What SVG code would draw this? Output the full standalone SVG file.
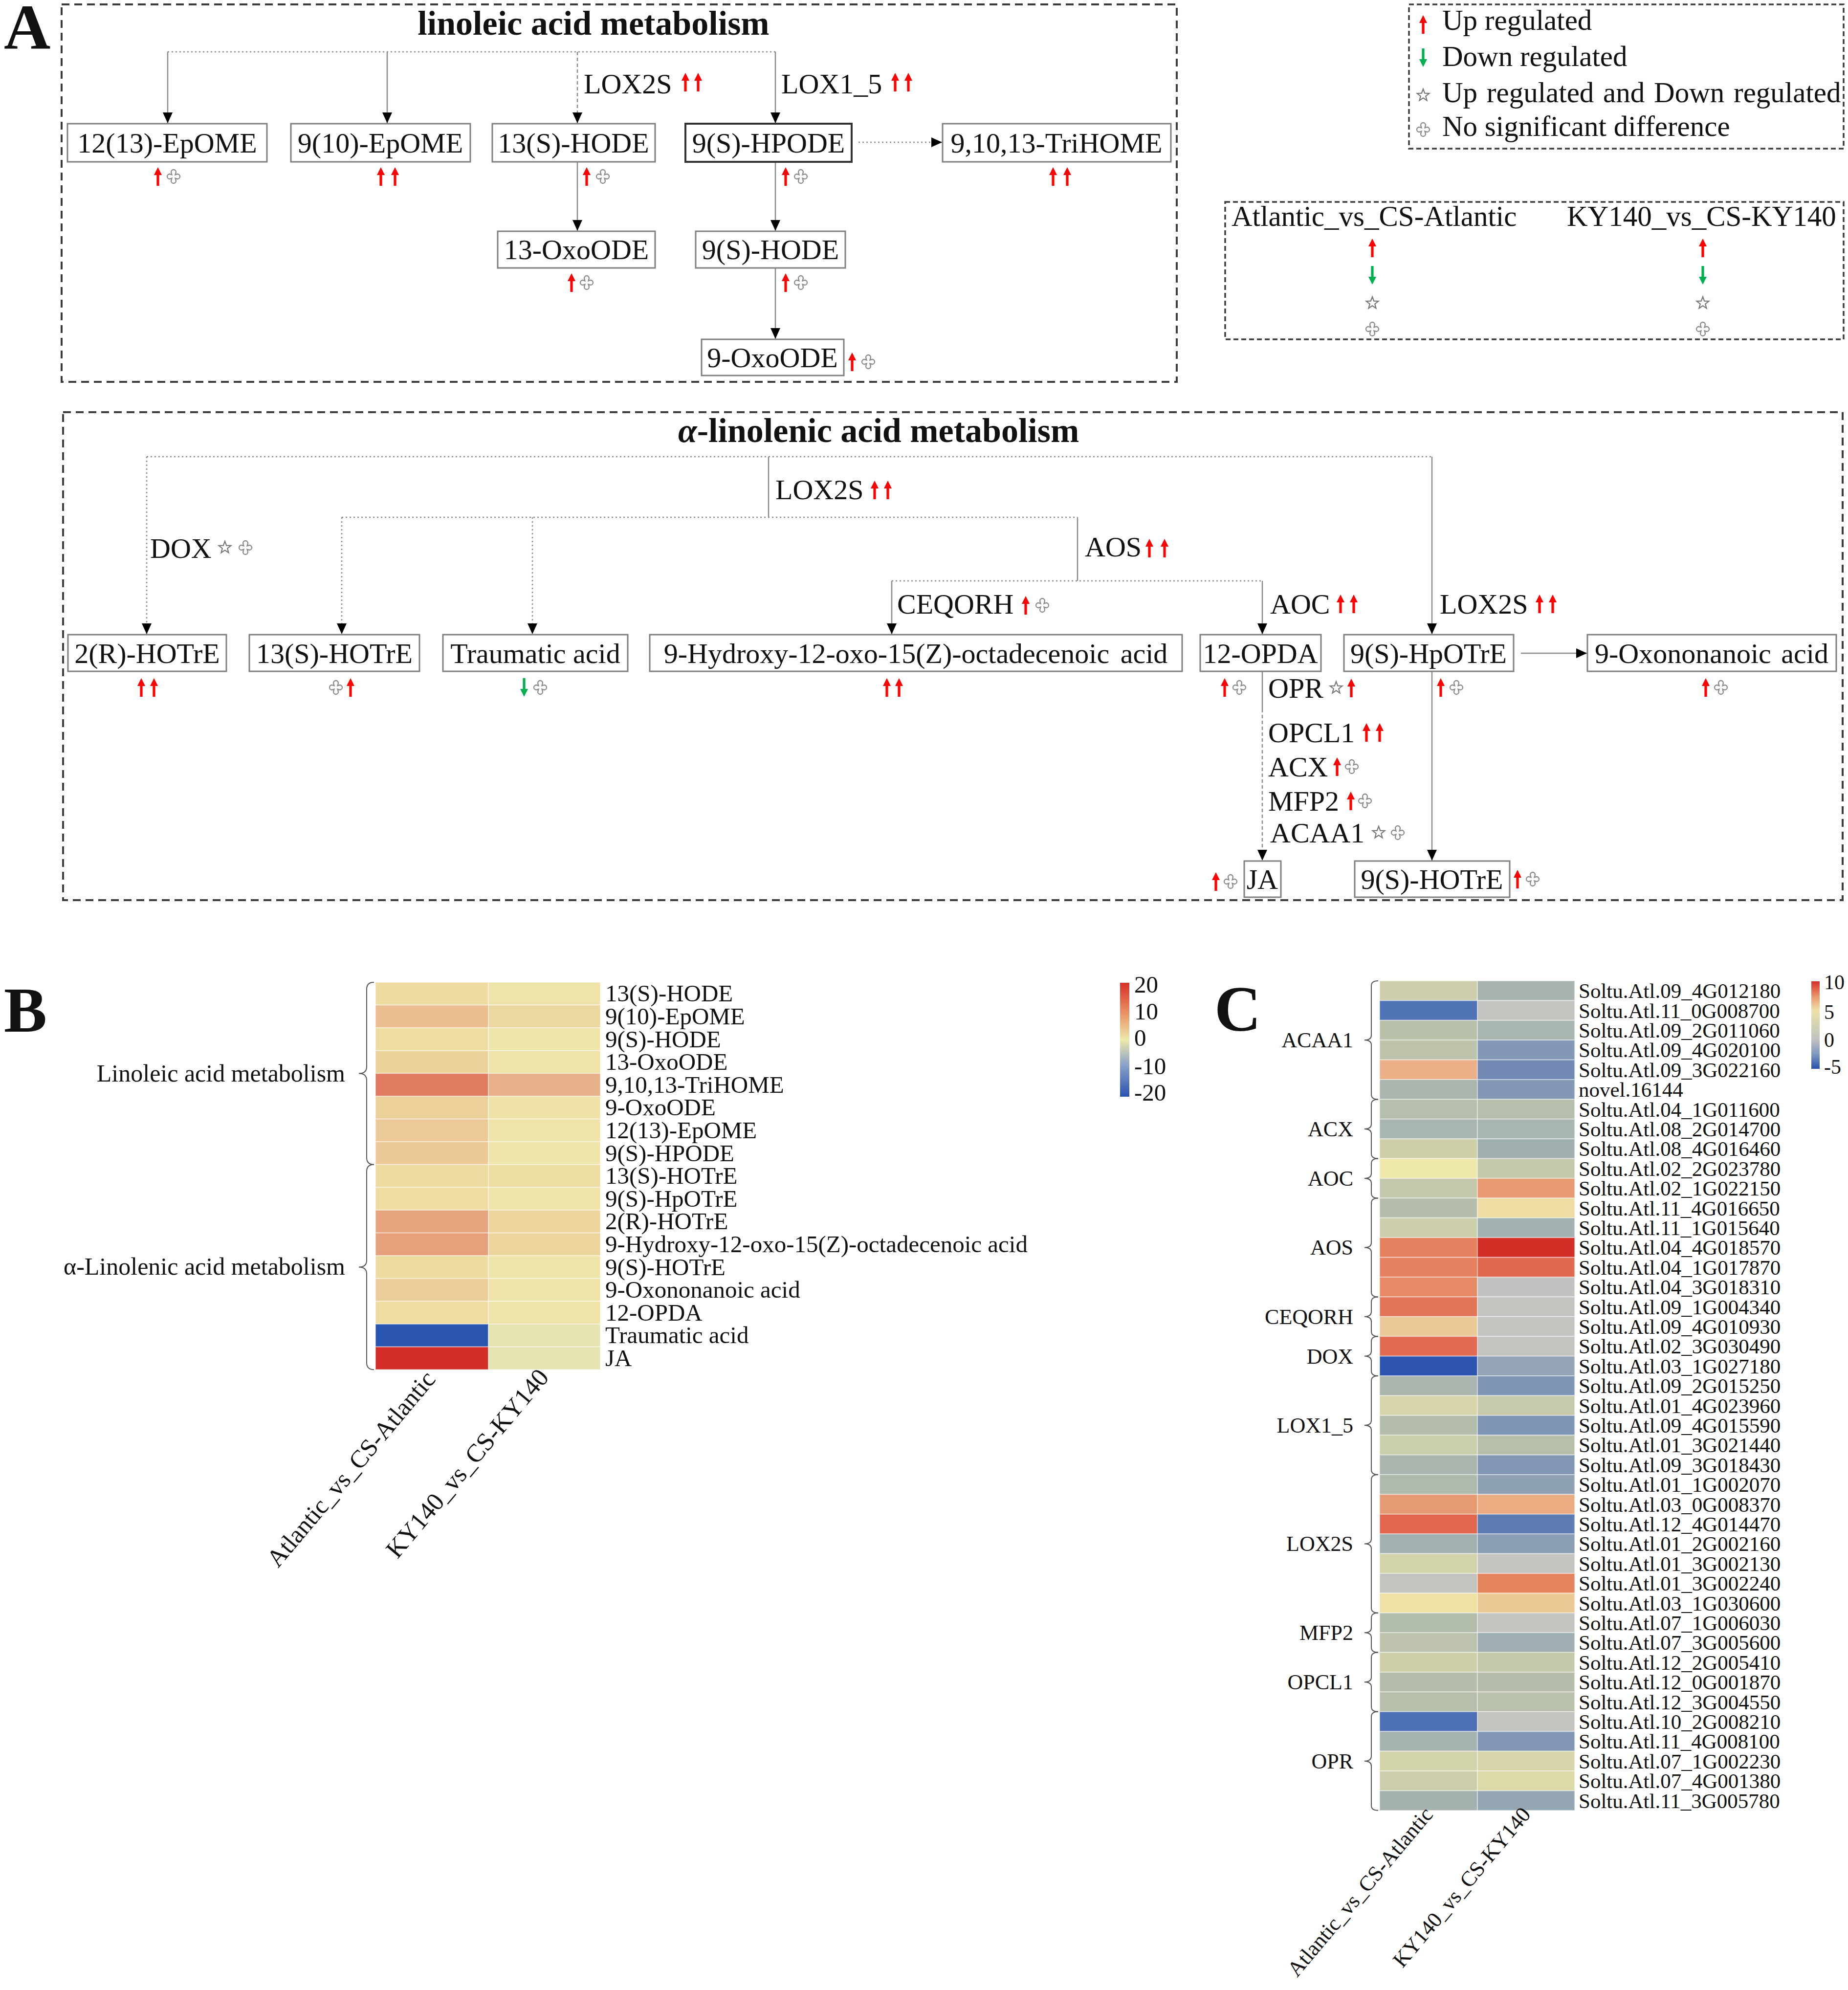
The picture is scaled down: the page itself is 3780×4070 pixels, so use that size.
<svg xmlns="http://www.w3.org/2000/svg" xmlns:xlink="http://www.w3.org/1999/xlink" width="3780" height="4070" viewBox="0 0 3780 4070">
<style>
text{font-family:"Liberation Serif","Times New Roman",serif;fill:#111}
.nt{font-size:58px;text-anchor:middle}
.lb{font-size:58px}
.pl{font-size:132px;font-weight:bold}
.ttl{font-size:70px;font-weight:bold}
.lg{font-size:59px}
.hb{font-size:49px}
.hc{font-size:43px}
.gc{font-size:44px;text-anchor:end}
.node rect{fill:#fff;stroke:#7f7f7f;stroke-width:3}
.conn path{fill:none;stroke:#8a8a8a;stroke-width:2.5}
.conn .dot{stroke-dasharray:3 5}
.conn .dash{stroke-dasharray:7 5}
.conn .arr{marker-end:url(#ah)}
.frame{fill:none;stroke:#3c3c3c;stroke-width:4;stroke-dasharray:16 10}
.lframe{fill:none;stroke:#3c3c3c;stroke-width:3.5;stroke-dasharray:10 6}
.brace{fill:none;stroke:#555;stroke-width:2}
.cell rect{stroke:#ffffff;stroke-opacity:0.45;stroke-width:2}
</style>
<defs>
<marker id="ah" viewBox="0 0 22 20" refX="22" refY="10" markerWidth="22" markerHeight="20" markerUnits="userSpaceOnUse" orient="auto"><path d="M0,0 L22,10 L0,20 z" fill="#000"/></marker>
<g id="up"><rect x="-2.6" y="-6" width="5.2" height="25" fill="#f00"/><polygon points="-8,-3 8,-3 0,-19" fill="#f00"/></g>
<g id="dn"><rect x="-2.6" y="-19" width="5.2" height="25" fill="#00b050"/><polygon points="-8,3 8,3 0,19" fill="#00b050"/></g>
<g id="st"><polygon points="0,-13 3.2,-4.4 12.4,-4 5.2,1.7 7.6,10.5 0,5.4 -7.6,10.5 -5.2,1.7 -12.4,-4 -3.2,-4.4" fill="#fff" stroke="#777" stroke-width="2.2"/></g>
<g id="ns"><path d="M-3.5,-3.5 L-5,-9 A5,5 0 0 1 5,-9 L3.5,-3.5 L8,-5 A5,5 0 0 1 8,5 L3.5,3.5 L5,9 A5,5 0 0 1 -5,9 L-3.5,3.5 L-8,5 A5,5 0 0 1 -8,-5 Z" fill="#fff" stroke="#8a8a8a" stroke-width="2.3"/></g>
<linearGradient id="gB" x1="0" y1="0" x2="0" y2="1"><stop offset="0" stop-color="#d73027"/><stop offset="0.25" stop-color="#e98c63"/><stop offset="0.5" stop-color="#eee8aa"/><stop offset="0.72" stop-color="#8aa3c8"/><stop offset="1" stop-color="#2a52b0"/></linearGradient>
<linearGradient id="gC" x1="0" y1="0" x2="0" y2="1"><stop offset="0" stop-color="#d73027"/><stop offset="0.18" stop-color="#ea9a70"/><stop offset="0.33" stop-color="#f0e0a8"/><stop offset="0.5" stop-color="#d2d3b4"/><stop offset="0.67" stop-color="#c0c0c0"/><stop offset="0.83" stop-color="#8098c0"/><stop offset="1" stop-color="#2850b0"/></linearGradient>
</defs>
<rect width="3780" height="4070" fill="#fff"/>

<!-- Panel A -->
<text class="pl" x="8" y="100">A</text>
<rect class="frame" x="126" y="9" width="2281" height="772"/>
<text class="ttl" x="1214" y="71" text-anchor="middle">linoleic acid metabolism</text>
<rect class="frame" x="129" y="843" width="3640" height="998"/>
<text class="ttl" x="1387" y="904"><tspan font-style="italic">α</tspan>-linolenic acid metabolism</text>

<!-- legends -->
<g id="legend-symbols">
<rect class="lframe" x="2882" y="9" width="889" height="295"/>
<use href="#up" x="2911" y="50"/><text class="lg" x="2950" y="61">Up regulated</text>
<use href="#dn" x="2911" y="118"/><text class="lg" x="2950" y="135">Down regulated</text>
<use href="#st" x="2911" y="195"/><text class="lg" x="2950" y="209" word-spacing="4">Up regulated and Down regulated</text>
<use href="#ns" x="2911" y="265"/><text class="lg" x="2950" y="278">No significant difference</text>
</g>
<g id="legend-compare">
<rect class="lframe" x="2506" y="413" width="1265" height="281"/>
<text class="lg" x="2519" y="462">Atlantic_vs_CS-Atlantic</text>
<text class="lg" x="3205" y="462">KY140_vs_CS-KY140</text>
<use href="#up" x="2807" y="507"/><use href="#dn" x="2807" y="563"/><use href="#st" x="2807" y="620"/><use href="#ns" x="2807" y="673"/>
<use href="#up" x="3483" y="507"/><use href="#dn" x="3483" y="563"/><use href="#st" x="3483" y="620"/><use href="#ns" x="3483" y="673"/>
</g>

<!-- connectors -->
<g id="connectors" class="conn">
<path class="dot" d="M343,106 H1586"/>
<path class="arr" d="M343,106 V252"/>
<path class="arr" d="M792,106 V252"/>
<path class="dash arr" d="M1181,106 V252"/>
<path class="arr" d="M1586,106 V252"/>
<path class="arr" d="M1181,331 V472"/>
<path class="arr" d="M1586,331 V472"/>
<path class="arr" d="M1586,548 V693"/>
<path class="dot arr" d="M1756,291 H1927"/>

<path class="dot" d="M300,934 H2929"/>
<path class="dot arr" d="M300,934 V1297"/>
<path d="M1572,934 V1058"/>
<path class="dot" d="M699,1058 H2204"/>
<path class="dot arr" d="M699,1058 V1297"/>
<path class="dot arr" d="M1089,1058 V1297"/>
<path d="M2204,1058 V1188"/>
<path class="dot" d="M1824,1188 H2582"/>
<path class="arr" d="M1824,1188 V1297"/>
<path class="arr" d="M2582,1188 V1297"/>
<path class="arr" d="M2929,934 V1297"/>
<path class="arr" d="M3111,1336 H3246"/>
<path d="M2582,1373 V1450"/>
<path class="dash arr" d="M2582,1450 V1760"/>
<path class="arr" d="M2929,1373 V1760"/>
</g>

<!-- linoleic nodes -->
<g id="n-1213EpOME" class="node"><rect x="138" y="253" width="408" height="78"/><text class="nt" x="342" y="312">12(13)-EpOME</text><use href="#up" x="323" y="361"/><use href="#ns" x="355" y="361"/></g>
<g id="n-910EpOME" class="node"><rect x="595" y="253" width="367" height="78"/><text class="nt" x="778" y="312">9(10)-EpOME</text><use href="#up" x="779" y="361"/><use href="#up" x="808" y="361"/></g>
<g id="n-13SHODE" class="node"><rect x="1007" y="253" width="333" height="78"/><text class="nt" x="1173" y="312">13(S)-HODE</text><use href="#up" x="1200" y="361"/><use href="#ns" x="1233" y="361"/></g>
<g id="n-9SHPODE" class="node"><rect x="1402" y="253" width="340" height="78" style="stroke:#333;stroke-width:4"/><text class="nt" x="1572" y="312">9(S)-HPODE</text><use href="#up" x="1607" y="361"/><use href="#ns" x="1638" y="361"/></g>
<g id="n-TriHOME" class="node"><rect x="1928" y="253" width="467" height="78"/><text class="nt" x="2161" y="312">9,10,13-TriHOME</text><use href="#up" x="2154" y="361"/><use href="#up" x="2183" y="361"/></g>
<g id="n-13OxoODE" class="node"><rect x="1018" y="473" width="322" height="75"/><text class="nt" x="1179" y="530">13-OxoODE</text><use href="#up" x="1169" y="578"/><use href="#ns" x="1200" y="578"/></g>
<g id="n-9SHODE" class="node"><rect x="1423" y="473" width="306" height="75"/><text class="nt" x="1576" y="530">9(S)-HODE</text><use href="#up" x="1607" y="578"/><use href="#ns" x="1638" y="578"/></g>
<g id="n-9OxoODE" class="node"><rect x="1435" y="694" width="291" height="74"/><text class="nt" x="1580" y="751">9-OxoODE</text><use href="#up" x="1743" y="740"/><use href="#ns" x="1776" y="740"/></g>

<g id="enzyme-labels-A">
<text class="lb" x="1194" y="191">LOX2S</text><use href="#up" x="1402" y="168"/><use href="#up" x="1428" y="168"/>
<text class="lb" x="1598" y="191">LOX1_5</text><use href="#up" x="1831" y="168"/><use href="#up" x="1858" y="168"/>
<text class="lb" x="307" y="1141">DOX</text><use href="#st" x="460" y="1120"/><use href="#ns" x="502" y="1120"/>
<text class="lb" x="1586" y="1021">LOX2S</text><use href="#up" x="1789" y="1002"/><use href="#up" x="1816" y="1002"/>
<text class="lb" x="2219" y="1138">AOS</text><use href="#up" x="2351" y="1121"/><use href="#up" x="2382" y="1121"/>
<text class="lb" x="1835" y="1255">CEQORH</text><use href="#up" x="2098" y="1238"/><use href="#ns" x="2132" y="1238"/>
<text class="lb" x="2598" y="1255">AOC</text><use href="#up" x="2742" y="1235"/><use href="#up" x="2769" y="1235"/>
<text class="lb" x="2945" y="1255">LOX2S</text><use href="#up" x="3149" y="1235"/><use href="#up" x="3176" y="1235"/>
<text class="lb" x="2594" y="1427">OPR</text><use href="#st" x="2733" y="1407"/><use href="#up" x="2764" y="1407"/>
<text class="lb" x="2594" y="1518">OPCL1</text><use href="#up" x="2795" y="1498"/><use href="#up" x="2822" y="1498"/>
<text class="lb" x="2594" y="1588">ACX</text><use href="#up" x="2735" y="1568"/><use href="#ns" x="2765" y="1568"/>
<text class="lb" x="2594" y="1658">MFP2</text><use href="#up" x="2763" y="1638"/><use href="#ns" x="2792" y="1638"/>
<text class="lb" x="2598" y="1723">ACAA1</text><use href="#st" x="2820" y="1703"/><use href="#ns" x="2859" y="1703"/>
</g>

<!-- alpha-linolenic nodes -->
<g id="m-2RHOTrE" class="node"><rect x="139" y="1298" width="324" height="75"/><text class="nt" x="301" y="1356">2(R)-HOTrE</text><use href="#up" x="289" y="1406"/><use href="#up" x="315" y="1406"/></g>
<g id="m-13SHOTrE" class="node"><rect x="510" y="1298" width="348" height="75"/><text class="nt" x="684" y="1356">13(S)-HOTrE</text><use href="#ns" x="687" y="1406"/><use href="#up" x="717" y="1406"/></g>
<g id="m-Traumatic" class="node"><rect x="906" y="1298" width="378" height="75"/><text class="nt" x="1095" y="1356">Traumatic acid</text><use href="#dn" x="1072" y="1406"/><use href="#ns" x="1105" y="1406"/></g>
<g id="m-9Hydroxy" class="node"><rect x="1329" y="1298" width="1089" height="75"/><text class="nt" x="1873" y="1356" word-spacing="8">9-Hydroxy-12-oxo-15(Z)-octadecenoic acid</text><use href="#up" x="1814" y="1406"/><use href="#up" x="1839" y="1406"/></g>
<g id="m-12OPDA" class="node"><rect x="2455" y="1298" width="247" height="75"/><text class="nt" x="2578" y="1356">12-OPDA</text><use href="#up" x="2505" y="1406"/><use href="#ns" x="2535" y="1406"/></g>
<g id="m-9SHpOTrE" class="node"><rect x="2749" y="1298" width="347" height="75"/><text class="nt" x="2922" y="1356">9(S)-HpOTrE</text><use href="#up" x="2947" y="1406"/><use href="#ns" x="2979" y="1406"/></g>
<g id="m-9Oxononanoic" class="node"><rect x="3247" y="1298" width="509" height="75"/><text class="nt" x="3501" y="1356" word-spacing="6">9-Oxononanoic acid</text><use href="#up" x="3489" y="1406"/><use href="#ns" x="3520" y="1406"/></g>
<g id="m-JA" class="node"><rect x="2545" y="1761" width="75" height="74"/><text class="nt" x="2582" y="1818">JA</text><use href="#up" x="2487" y="1803"/><use href="#ns" x="2517" y="1803"/></g>
<g id="m-9SHOTrE" class="node"><rect x="2771" y="1761" width="317" height="74"/><text class="nt" x="2929" y="1818">9(S)-HOTrE</text><use href="#up" x="3104" y="1798"/><use href="#ns" x="3135" y="1798"/></g>

<!-- Panel B -->
<g id="panelB">
<text class="pl" x="8" y="2110">B</text>
<g class="cell">
<rect x="768" y="2009" width="231" height="46.6" fill="#eedba0"/><rect x="999" y="2009" width="229" height="46.6" fill="#eee3a8"/>
<rect x="768" y="2055.6" width="231" height="46.6" fill="#ebbe92"/><rect x="999" y="2055.6" width="229" height="46.6" fill="#ebd7a0"/>
<rect x="768" y="2102.2" width="231" height="46.6" fill="#eedca0"/><rect x="999" y="2102.2" width="229" height="46.6" fill="#eee5aa"/>
<rect x="768" y="2148.8" width="231" height="46.6" fill="#ecd39c"/><rect x="999" y="2148.8" width="229" height="46.6" fill="#eee3a8"/>
<rect x="768" y="2195.4" width="231" height="46.6" fill="#e07a60"/><rect x="999" y="2195.4" width="229" height="46.6" fill="#e8b088"/>
<rect x="768" y="2242" width="231" height="46.6" fill="#ecd09a"/><rect x="999" y="2242" width="229" height="46.6" fill="#eee2a8"/>
<rect x="768" y="2288.6" width="231" height="46.6" fill="#ecca98"/><rect x="999" y="2288.6" width="229" height="46.6" fill="#eee4aa"/>
<rect x="768" y="2335.2" width="231" height="46.6" fill="#ecc897"/><rect x="999" y="2335.2" width="229" height="46.6" fill="#eee5aa"/>
<rect x="768" y="2381.8" width="231" height="46.6" fill="#eed9a0"/><rect x="999" y="2381.8" width="229" height="46.6" fill="#eddda3"/>
<rect x="768" y="2428.4" width="231" height="46.6" fill="#eedca0"/><rect x="999" y="2428.4" width="229" height="46.6" fill="#eee3a8"/>
<rect x="768" y="2475" width="231" height="46.6" fill="#e6a47e"/><rect x="999" y="2475" width="229" height="46.6" fill="#ecd49c"/>
<rect x="768" y="2521.6" width="231" height="46.6" fill="#e6a07c"/><rect x="999" y="2521.6" width="229" height="46.6" fill="#ecd59d"/>
<rect x="768" y="2568.2" width="231" height="46.6" fill="#eedba0"/><rect x="999" y="2568.2" width="229" height="46.6" fill="#eee5aa"/>
<rect x="768" y="2614.8" width="231" height="46.6" fill="#eccd99"/><rect x="999" y="2614.8" width="229" height="46.6" fill="#eee4aa"/>
<rect x="768" y="2661.4" width="231" height="46.6" fill="#eedca0"/><rect x="999" y="2661.4" width="229" height="46.6" fill="#eee4aa"/>
<rect x="768" y="2708" width="231" height="46.6" fill="#2a55b0"/><rect x="999" y="2708" width="229" height="46.6" fill="#e6e4b0"/>
<rect x="768" y="2754.6" width="231" height="46.6" fill="#d42e28"/><rect x="999" y="2754.6" width="229" height="46.6" fill="#e6e4b0"/>
</g>
<text class="hb" x="1238" y="2048.3">13(S)-HODE</text>
<text class="hb" x="1238" y="2094.9">9(10)-EpOME</text>
<text class="hb" x="1238" y="2141.5">9(S)-HODE</text>
<text class="hb" x="1238" y="2188.1">13-OxoODE</text>
<text class="hb" x="1238" y="2234.7">9,10,13-TriHOME</text>
<text class="hb" x="1238" y="2281.3">9-OxoODE</text>
<text class="hb" x="1238" y="2327.9">12(13)-EpOME</text>
<text class="hb" x="1238" y="2374.5">9(S)-HPODE</text>
<text class="hb" x="1238" y="2421.1">13(S)-HOTrE</text>
<text class="hb" x="1238" y="2467.7">9(S)-HpOTrE</text>
<text class="hb" x="1238" y="2514.3">2(R)-HOTrE</text>
<text class="hb" x="1238" y="2560.9">9-Hydroxy-12-oxo-15(Z)-octadecenoic acid</text>
<text class="hb" x="1238" y="2607.5">9(S)-HOTrE</text>
<text class="hb" x="1238" y="2654.1">9-Oxononanoic acid</text>
<text class="hb" x="1238" y="2700.7">12-OPDA</text>
<text class="hb" x="1238" y="2747.3">Traumatic acid</text>
<text class="hb" x="1238" y="2793.9">JA</text>
<path class="brace" d="M765,2009 Q750,2009 750,2023 L750,2181.4 Q750,2195.4 734,2195.4 Q750,2195.4 750,2209.4 L750,2367.8 Q750,2381.8 765,2381.8"/>
<path class="brace" d="M765,2381.8 Q750,2381.8 750,2395.8 L750,2577.5 Q750,2591.5 734,2591.5 Q750,2591.5 750,2605.5 L750,2787.2 Q750,2801.2 765,2801.2"/>
<text class="hb" x="706" y="2212" text-anchor="end" style="font-size:50px">Linoleic acid metabolism</text>
<text class="hb" x="706" y="2607" text-anchor="end" style="font-size:50px">α-Linolenic acid metabolism</text>
<text class="hb" x="893" y="2822" text-anchor="end" transform="rotate(-50 893 2822)" style="font-size:51px">Atlantic_vs_CS-Atlantic</text>
<text class="hb" x="1125" y="2818" text-anchor="end" transform="rotate(-50 1125 2818)" style="font-size:52px">KY140_vs_CS-KY140</text>
<rect x="2291" y="2010" width="19" height="233" fill="url(#gB)"/>
<text class="hb" x="2320" y="2030">20</text>
<text class="hb" x="2320" y="2085">10</text>
<text class="hb" x="2320" y="2139">0</text>
<text class="hb" x="2320" y="2197">-10</text>
<text class="hb" x="2320" y="2251">-20</text>
</g>

<!-- Panel C -->
<g id="panelC">
<text class="pl" x="2484" y="2108">C</text>
<g class="cell">
<rect x="2822" y="2006" width="200" height="40.4" fill="#cfcfad"/><rect x="3022" y="2006" width="199" height="40.4" fill="#a9b4ae"/>
<rect x="2822" y="2046.4" width="200" height="40.4" fill="#4f74b5"/><rect x="3022" y="2046.4" width="199" height="40.4" fill="#c3c3c0"/>
<rect x="2822" y="2086.8" width="200" height="40.4" fill="#b9c0aa"/><rect x="3022" y="2086.8" width="199" height="40.4" fill="#a9b5b0"/>
<rect x="2822" y="2127.2" width="200" height="40.4" fill="#bec3ac"/><rect x="3022" y="2127.2" width="199" height="40.4" fill="#8398b5"/>
<rect x="2822" y="2167.6" width="200" height="40.4" fill="#ebb087"/><rect x="3022" y="2167.6" width="199" height="40.4" fill="#7189b3"/>
<rect x="2822" y="2208" width="200" height="40.4" fill="#a9b5ad"/><rect x="3022" y="2208" width="199" height="40.4" fill="#8398b5"/>
<rect x="2822" y="2248.4" width="200" height="40.4" fill="#b6bfab"/><rect x="3022" y="2248.4" width="199" height="40.4" fill="#b6bfab"/>
<rect x="2822" y="2288.8" width="200" height="40.4" fill="#a9b5af"/><rect x="3022" y="2288.8" width="199" height="40.4" fill="#a9b5af"/>
<rect x="2822" y="2329.2" width="200" height="40.4" fill="#cfd0aa"/><rect x="3022" y="2329.2" width="199" height="40.4" fill="#a0b0b1"/>
<rect x="2822" y="2369.6" width="200" height="40.4" fill="#eee8aa"/><rect x="3022" y="2369.6" width="199" height="40.4" fill="#c3c8ab"/>
<rect x="2822" y="2410" width="200" height="40.4" fill="#c4c8ab"/><rect x="3022" y="2410" width="199" height="40.4" fill="#e89a72"/>
<rect x="2822" y="2450.4" width="200" height="40.4" fill="#b6beab"/><rect x="3022" y="2450.4" width="199" height="40.4" fill="#eedca2"/>
<rect x="2822" y="2490.8" width="200" height="40.4" fill="#ccceab"/><rect x="3022" y="2490.8" width="199" height="40.4" fill="#a2b1b1"/>
<rect x="2822" y="2531.2" width="200" height="40.4" fill="#e5805f"/><rect x="3022" y="2531.2" width="199" height="40.4" fill="#d42e26"/>
<rect x="2822" y="2571.6" width="200" height="40.4" fill="#e5815f"/><rect x="3022" y="2571.6" width="199" height="40.4" fill="#e06a50"/>
<rect x="2822" y="2612" width="200" height="40.4" fill="#e68a65"/><rect x="3022" y="2612" width="199" height="40.4" fill="#c2c2c0"/>
<rect x="2822" y="2652.4" width="200" height="40.4" fill="#e37458"/><rect x="3022" y="2652.4" width="199" height="40.4" fill="#c3c3c0"/>
<rect x="2822" y="2692.8" width="200" height="40.4" fill="#ebc898"/><rect x="3022" y="2692.8" width="199" height="40.4" fill="#c3c3c0"/>
<rect x="2822" y="2733.2" width="200" height="40.4" fill="#e16c52"/><rect x="3022" y="2733.2" width="199" height="40.4" fill="#c3c3c0"/>
<rect x="2822" y="2773.6" width="200" height="40.4" fill="#2d55b0"/><rect x="3022" y="2773.6" width="199" height="40.4" fill="#94a6b5"/>
<rect x="2822" y="2814" width="200" height="40.4" fill="#aab5ae"/><rect x="3022" y="2814" width="199" height="40.4" fill="#7f95b5"/>
<rect x="2822" y="2854.4" width="200" height="40.4" fill="#d5d4aa"/><rect x="3022" y="2854.4" width="199" height="40.4" fill="#c6caab"/>
<rect x="2822" y="2894.8" width="200" height="40.4" fill="#b4bdab"/><rect x="3022" y="2894.8" width="199" height="40.4" fill="#7f95b5"/>
<rect x="2822" y="2935.2" width="200" height="40.4" fill="#cccfab"/><rect x="3022" y="2935.2" width="199" height="40.4" fill="#b7bfab"/>
<rect x="2822" y="2975.6" width="200" height="40.4" fill="#a9b5ad"/><rect x="3022" y="2975.6" width="199" height="40.4" fill="#8397b5"/>
<rect x="2822" y="3016" width="200" height="40.4" fill="#afbaae"/><rect x="3022" y="3016" width="199" height="40.4" fill="#8fa2b3"/>
<rect x="2822" y="3056.4" width="200" height="40.4" fill="#e69a74"/><rect x="3022" y="3056.4" width="199" height="40.4" fill="#ebac82"/>
<rect x="2822" y="3096.8" width="200" height="40.4" fill="#e1684f"/><rect x="3022" y="3096.8" width="199" height="40.4" fill="#5c7cb3"/>
<rect x="2822" y="3137.2" width="200" height="40.4" fill="#a2b0af"/><rect x="3022" y="3137.2" width="199" height="40.4" fill="#8a9db5"/>
<rect x="2822" y="3177.6" width="200" height="40.4" fill="#d3d3aa"/><rect x="3022" y="3177.6" width="199" height="40.4" fill="#c3c3c0"/>
<rect x="2822" y="3218" width="200" height="40.4" fill="#c3c3c0"/><rect x="3022" y="3218" width="199" height="40.4" fill="#e5855f"/>
<rect x="2822" y="3258.4" width="200" height="40.4" fill="#efe0a5"/><rect x="3022" y="3258.4" width="199" height="40.4" fill="#ebc894"/>
<rect x="2822" y="3298.8" width="200" height="40.4" fill="#b3bdab"/><rect x="3022" y="3298.8" width="199" height="40.4" fill="#c3c3c0"/>
<rect x="2822" y="3339.2" width="200" height="40.4" fill="#bcc2ab"/><rect x="3022" y="3339.2" width="199" height="40.4" fill="#a0afb1"/>
<rect x="2822" y="3379.6" width="200" height="40.4" fill="#cfd0ab"/><rect x="3022" y="3379.6" width="199" height="40.4" fill="#c4c9ab"/>
<rect x="2822" y="3420" width="200" height="40.4" fill="#b6beab"/><rect x="3022" y="3420" width="199" height="40.4" fill="#b6beab"/>
<rect x="2822" y="3460.4" width="200" height="40.4" fill="#b7bfab"/><rect x="3022" y="3460.4" width="199" height="40.4" fill="#b9c0ab"/>
<rect x="2822" y="3500.8" width="200" height="40.4" fill="#4d70b5"/><rect x="3022" y="3500.8" width="199" height="40.4" fill="#c3c3c0"/>
<rect x="2822" y="3541.2" width="200" height="40.4" fill="#a6b3ae"/><rect x="3022" y="3541.2" width="199" height="40.4" fill="#8397b5"/>
<rect x="2822" y="3581.6" width="200" height="40.4" fill="#d4d4aa"/><rect x="3022" y="3581.6" width="199" height="40.4" fill="#d6d6aa"/>
<rect x="2822" y="3622" width="200" height="40.4" fill="#ccceab"/><rect x="3022" y="3622" width="199" height="40.4" fill="#dcdba8"/>
<rect x="2822" y="3662.4" width="200" height="40.4" fill="#a3b1af"/><rect x="3022" y="3662.4" width="199" height="40.4" fill="#94a6b3"/>
</g>
<text class="hc" x="3229" y="2041.2">Soltu.Atl.09_4G012180</text>
<text class="hc" x="3229" y="2081.6">Soltu.Atl.11_0G008700</text>
<text class="hc" x="3229" y="2122">Soltu.Atl.09_2G011060</text>
<text class="hc" x="3229" y="2162.4">Soltu.Atl.09_4G020100</text>
<text class="hc" x="3229" y="2202.8">Soltu.Atl.09_3G022160</text>
<text class="hc" x="3229" y="2243.2">novel.16144</text>
<text class="hc" x="3229" y="2283.6">Soltu.Atl.04_1G011600</text>
<text class="hc" x="3229" y="2324">Soltu.Atl.08_2G014700</text>
<text class="hc" x="3229" y="2364.4">Soltu.Atl.08_4G016460</text>
<text class="hc" x="3229" y="2404.8">Soltu.Atl.02_2G023780</text>
<text class="hc" x="3229" y="2445.2">Soltu.Atl.02_1G022150</text>
<text class="hc" x="3229" y="2485.6">Soltu.Atl.11_4G016650</text>
<text class="hc" x="3229" y="2526">Soltu.Atl.11_1G015640</text>
<text class="hc" x="3229" y="2566.4">Soltu.Atl.04_4G018570</text>
<text class="hc" x="3229" y="2606.8">Soltu.Atl.04_1G017870</text>
<text class="hc" x="3229" y="2647.2">Soltu.Atl.04_3G018310</text>
<text class="hc" x="3229" y="2687.6">Soltu.Atl.09_1G004340</text>
<text class="hc" x="3229" y="2728">Soltu.Atl.09_4G010930</text>
<text class="hc" x="3229" y="2768.4">Soltu.Atl.02_3G030490</text>
<text class="hc" x="3229" y="2808.8">Soltu.Atl.03_1G027180</text>
<text class="hc" x="3229" y="2849.2">Soltu.Atl.09_2G015250</text>
<text class="hc" x="3229" y="2889.6">Soltu.Atl.01_4G023960</text>
<text class="hc" x="3229" y="2930">Soltu.Atl.09_4G015590</text>
<text class="hc" x="3229" y="2970.4">Soltu.Atl.01_3G021440</text>
<text class="hc" x="3229" y="3010.8">Soltu.Atl.09_3G018430</text>
<text class="hc" x="3229" y="3051.2">Soltu.Atl.01_1G002070</text>
<text class="hc" x="3229" y="3091.6">Soltu.Atl.03_0G008370</text>
<text class="hc" x="3229" y="3132">Soltu.Atl.12_4G014470</text>
<text class="hc" x="3229" y="3172.4">Soltu.Atl.01_2G002160</text>
<text class="hc" x="3229" y="3212.8">Soltu.Atl.01_3G002130</text>
<text class="hc" x="3229" y="3253.2">Soltu.Atl.01_3G002240</text>
<text class="hc" x="3229" y="3293.6">Soltu.Atl.03_1G030600</text>
<text class="hc" x="3229" y="3334">Soltu.Atl.07_1G006030</text>
<text class="hc" x="3229" y="3374.4">Soltu.Atl.07_3G005600</text>
<text class="hc" x="3229" y="3414.8">Soltu.Atl.12_2G005410</text>
<text class="hc" x="3229" y="3455.2">Soltu.Atl.12_0G001870</text>
<text class="hc" x="3229" y="3495.6">Soltu.Atl.12_3G004550</text>
<text class="hc" x="3229" y="3536">Soltu.Atl.10_2G008210</text>
<text class="hc" x="3229" y="3576.4">Soltu.Atl.11_4G008100</text>
<text class="hc" x="3229" y="3616.8">Soltu.Atl.07_1G002230</text>
<text class="hc" x="3229" y="3657.2">Soltu.Atl.07_4G001380</text>
<text class="hc" x="3229" y="3697.6">Soltu.Atl.11_3G005780</text>
<path class="brace" d="M2819,2006 Q2805,2006 2805,2016 L2805,2117.2 Q2805,2127.2 2791,2127.2 Q2805,2127.2 2805,2137.2 L2805,2238.4 Q2805,2248.4 2819,2248.4"/>
<path class="brace" d="M2819,2248.4 Q2805,2248.4 2805,2258.4 L2805,2299 Q2805,2309 2791,2309 Q2805,2309 2805,2319 L2805,2359.6 Q2805,2369.6 2819,2369.6"/>
<path class="brace" d="M2819,2369.6 Q2805,2369.6 2805,2379.6 L2805,2400 Q2805,2410 2791,2410 Q2805,2410 2805,2420 L2805,2440.4 Q2805,2450.4 2819,2450.4"/>
<path class="brace" d="M2819,2450.4 Q2805,2450.4 2805,2460.4 L2805,2541.4 Q2805,2551.4 2791,2551.4 Q2805,2551.4 2805,2561.4 L2805,2642.4 Q2805,2652.4 2819,2652.4"/>
<path class="brace" d="M2819,2652.4 Q2805,2652.4 2805,2662.4 L2805,2682.8 Q2805,2692.8 2791,2692.8 Q2805,2692.8 2805,2702.8 L2805,2723.2 Q2805,2733.2 2819,2733.2"/>
<path class="brace" d="M2819,2733.2 Q2805,2733.2 2805,2743.2 L2805,2763.6 Q2805,2773.6 2791,2773.6 Q2805,2773.6 2805,2783.6 L2805,2804 Q2805,2814 2819,2814"/>
<path class="brace" d="M2819,2814 Q2805,2814 2805,2824 L2805,2905 Q2805,2915 2791,2915 Q2805,2915 2805,2925 L2805,3006 Q2805,3016 2819,3016"/>
<path class="brace" d="M2819,3016 Q2805,3016 2805,3026 L2805,3147.4 Q2805,3157.4 2791,3157.4 Q2805,3157.4 2805,3167.4 L2805,3288.8 Q2805,3298.8 2819,3298.8"/>
<path class="brace" d="M2819,3298.8 Q2805,3298.8 2805,3308.8 L2805,3329.2 Q2805,3339.2 2791,3339.2 Q2805,3339.2 2805,3349.2 L2805,3369.6 Q2805,3379.6 2819,3379.6"/>
<path class="brace" d="M2819,3379.6 Q2805,3379.6 2805,3389.6 L2805,3430.2 Q2805,3440.2 2791,3440.2 Q2805,3440.2 2805,3450.2 L2805,3490.8 Q2805,3500.8 2819,3500.8"/>
<path class="brace" d="M2819,3500.8 Q2805,3500.8 2805,3510.8 L2805,3591.8 Q2805,3601.8 2791,3601.8 Q2805,3601.8 2805,3611.8 L2805,3692.8 Q2805,3702.8 2819,3702.8"/>
<text class="gc" x="2768" y="2142">ACAA1</text>
<text class="gc" x="2768" y="2324">ACX</text>
<text class="gc" x="2768" y="2425">AOC</text>
<text class="gc" x="2768" y="2566">AOS</text>
<text class="gc" x="2768" y="2708">CEQORH</text>
<text class="gc" x="2768" y="2789">DOX</text>
<text class="gc" x="2768" y="2930">LOX1_5</text>
<text class="gc" x="2768" y="3172">LOX2S</text>
<text class="gc" x="2768" y="3354">MFP2</text>
<text class="gc" x="2768" y="3455">OPCL1</text>
<text class="gc" x="2768" y="3617">OPR</text>
<text class="hc" x="2933" y="3712" text-anchor="end" transform="rotate(-50 2933 3712)" style="font-size:44px">Atlantic_vs_CS-Atlantic</text>
<text class="hc" x="3133" y="3712" text-anchor="end" transform="rotate(-50 3133 3712)" style="font-size:44px">KY140_vs_CS-KY140</text>
<rect x="3705" y="2007" width="17" height="179" fill="url(#gC)"/>
<text style="font-size:42px" x="3731" y="2023">10</text>
<text style="font-size:42px" x="3731" y="2084">5</text>
<text style="font-size:42px" x="3731" y="2141">0</text>
<text style="font-size:42px" x="3731" y="2196">-5</text>
</g>
</svg>
